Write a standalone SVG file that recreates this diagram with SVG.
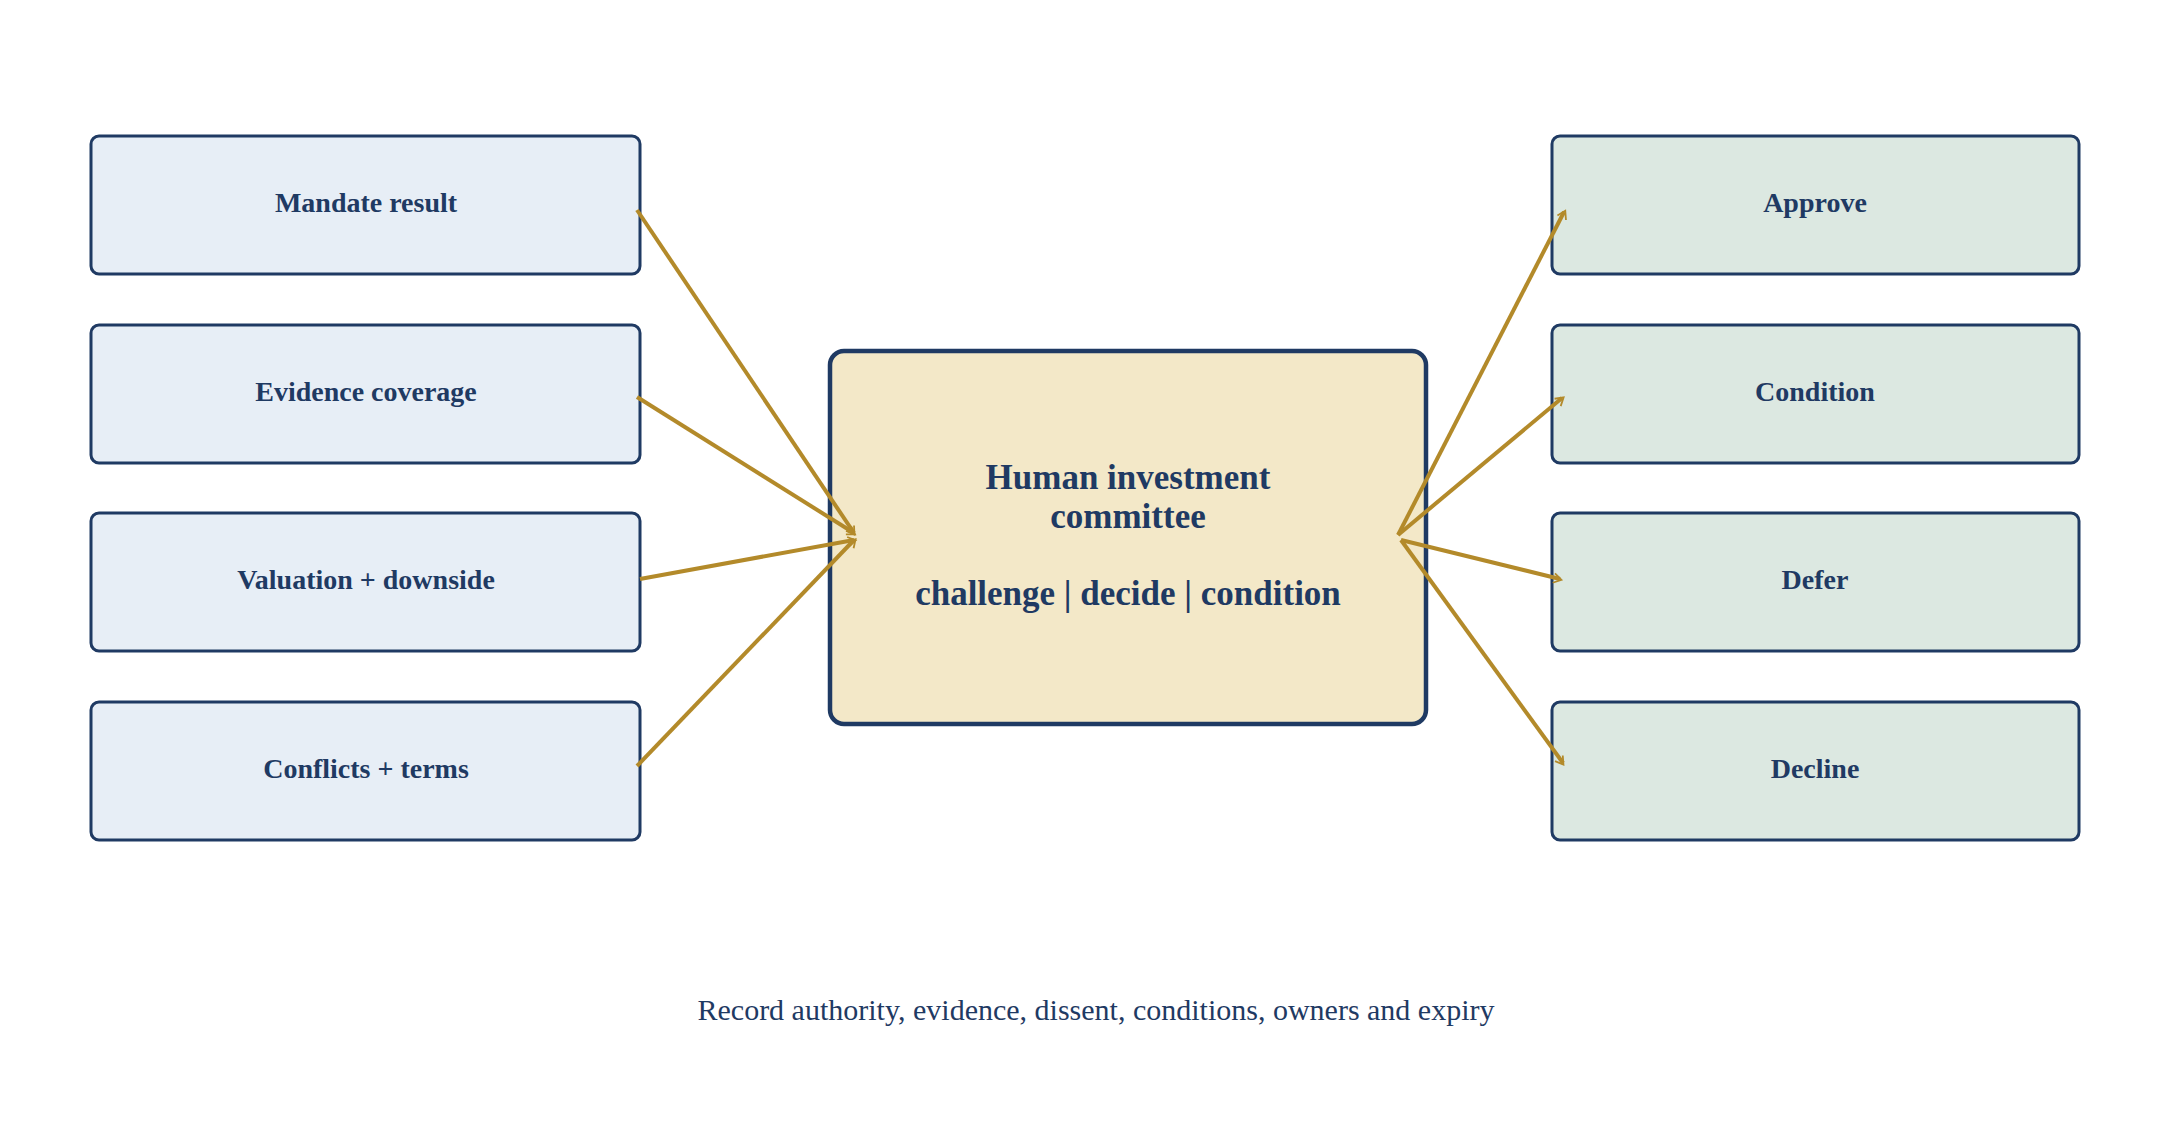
<svg xmlns="http://www.w3.org/2000/svg" width="2181" height="1147" viewBox="0 0 2181 1147">
<style>
.in{fill:#E7EEF6;stroke:#1F3A63;stroke-width:3}
.out{fill:#DCE8E1;stroke:#1F3A63;stroke-width:3}
.ctr{fill:#F3E8C8;stroke:#1F3A63;stroke-width:4.5}
.lbl{font-family:"Liberation Serif",serif;font-weight:bold;font-size:28px;fill:#1F3A63;text-anchor:middle}
.big{font-family:"Liberation Serif",serif;font-weight:bold;font-size:35px;fill:#1F3A63;text-anchor:middle}
.foot{font-family:"Liberation Serif",serif;font-size:30px;fill:#1F3A63;text-anchor:middle}
.c{stroke:#B38A2A;stroke-width:4;fill:none;marker-end:url(#ah)}
</style>
<defs>
<marker id="ah" viewBox="0 0 12 12" refX="10" refY="6" markerWidth="6" markerHeight="6" orient="auto" markerUnits="userSpaceOnUse" overflow="visible">
<path d="M-2 -2 L11 6 L-2 14" fill="none" stroke="#B38A2A" stroke-width="3" transform="scale(1.2)"/>
</marker>
</defs>
<rect width="2181" height="1147" fill="#fff"/>
<g id="mandate"><rect class="in" x="91" y="136" width="549" height="138" rx="8"/><text class="lbl" x="366" y="212">Mandate result</text></g>
<g id="evidence"><rect class="in" x="91" y="325" width="549" height="138" rx="8"/><text class="lbl" x="366" y="401">Evidence coverage</text></g>
<g id="valuation"><rect class="in" x="91" y="513" width="549" height="138" rx="8"/><text class="lbl" x="366" y="589">Valuation + downside</text></g>
<g id="conflicts"><rect class="in" x="91" y="702" width="549" height="138" rx="8"/><text class="lbl" x="366" y="778">Conflicts + terms</text></g>
<g id="committee"><rect class="ctr" x="830" y="351" width="596" height="373" rx="14"/>
<text class="big" x="1128" y="489">Human investment</text>
<text class="big" x="1128" y="528">committee</text>
<text class="big" x="1128" y="605">challenge | decide | condition</text></g>
<g id="approve"><rect class="out" x="1552" y="136" width="527" height="138" rx="8"/><text class="lbl" x="1815" y="212">Approve</text></g>
<g id="condition"><rect class="out" x="1552" y="325" width="527" height="138" rx="8"/><text class="lbl" x="1815" y="401">Condition</text></g>
<g id="defer"><rect class="out" x="1552" y="513" width="527" height="138" rx="8"/><text class="lbl" x="1815" y="589">Defer</text></g>
<g id="decline"><rect class="out" x="1552" y="702" width="527" height="138" rx="8"/><text class="lbl" x="1815" y="778">Decline</text></g>
<g id="connectors">
<line class="c" x1="637" y1="210" x2="854" y2="533"/>
<line class="c" x1="637" y1="397" x2="854" y2="533"/>
<line class="c" x1="640" y1="579" x2="854" y2="540"/>
<line class="c" x1="637" y1="766" x2="854" y2="540"/>
<line class="c" x1="1398" y1="535" x2="1564" y2="212"/>
<line class="c" x1="1398" y1="535" x2="1562" y2="398"/>
<line class="c" x1="1401" y1="540" x2="1560" y2="579"/>
<line class="c" x1="1401" y1="540" x2="1563" y2="763"/>
</g>
<text class="foot" x="1096" y="1020">Record authority, evidence, dissent, conditions, owners and expiry</text>
</svg>
